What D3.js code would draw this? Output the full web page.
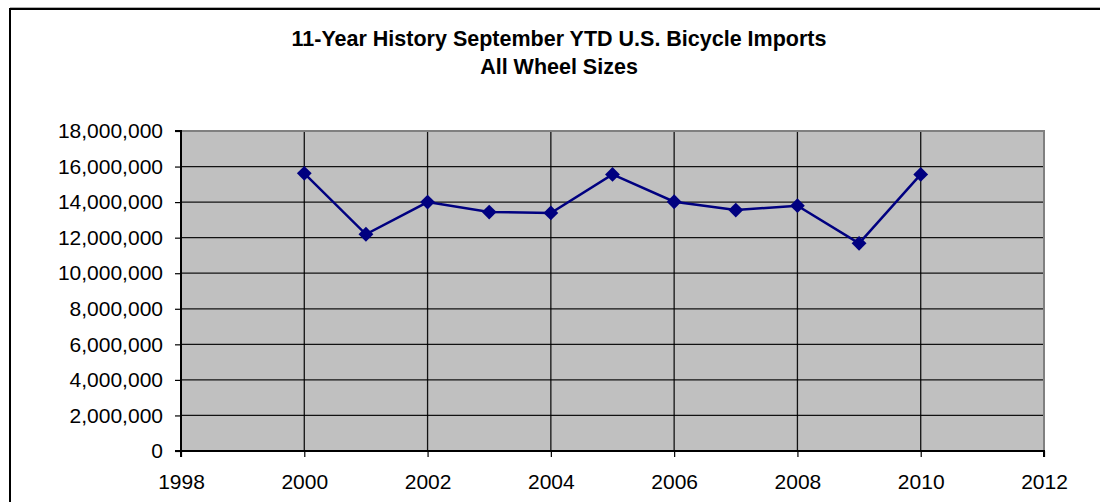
<!DOCTYPE html>
<html>
<head>
<meta charset="utf-8">
<script src="https://cdn.jsdelivr.net/npm/d3@7"></script>
<style>
  html, body { margin: 0; padding: 0; background: #fff; }
  svg { display: block; }
  text { font-family: "Liberation Sans", Arial, sans-serif; fill: #000; }
</style>
</head>
<body>
<svg id="chart" width="1100" height="502"></svg>
<script>
const years = [2000, 2001, 2002, 2003, 2004, 2005, 2006, 2007, 2008, 2009, 2010];
const imports = [15620000, 12190000, 14000000, 13440000, 13390000, 15560000, 14020000, 13550000, 13800000, 11680000, 15560000];
const xTicks = [1998, 2000, 2002, 2004, 2006, 2008, 2010, 2012];
const yTicks = [0, 2000000, 4000000, 6000000, 8000000, 10000000, 12000000, 14000000, 16000000, 18000000];
const titleLines = ["11-Year History September YTD U.S. Bicycle Imports", "All Wheel Sizes"];

const svg = d3.select("#chart");
const L = 181, R = 1044, T = 131, B = 451;

// outer chart border
svg.append("rect").attr("x", 10).attr("y", 9).attr("width", 1200).attr("height", 600)
  .attr("fill", "#fff").attr("stroke", "#000").attr("stroke-width", 2);
svg.append("line").attr("x1", 10).attr("x2", 1100).attr("y1", 7.5).attr("y2", 7.5)
  .attr("stroke", "#b0b0b0").attr("stroke-width", 1);

const x = d3.scaleLinear().domain([1998, 2012]).range([L, R]);
const y = d3.scaleLinear().domain([0, 18000000]).range([B, T]);

// plot background
svg.append("rect").attr("x", L).attr("y", T).attr("width", R - L).attr("height", B - T)
  .attr("fill", "#c0c0c0");

// gridlines
svg.append("g").selectAll("line").data(yTicks.slice(1)).join("line")
  .attr("x1", L).attr("x2", R).attr("y1", d => y(d)).attr("y2", d => y(d))
  .attr("stroke", "#000").attr("stroke-width", 1.3).attr("opacity", 0.9);
svg.append("g").selectAll("line").data(xTicks.slice(1, -1)).join("line")
  .attr("y1", T).attr("y2", B).attr("x1", d => x(d)).attr("x2", d => x(d))
  .attr("stroke", "#000").attr("stroke-width", 1.3).attr("opacity", 0.9);

// plot border (top/right gray)
svg.append("path").attr("d", `M${L},${T}H${R}V${B}`).attr("fill", "none")
  .attr("stroke", "#808080").attr("stroke-width", 2);

// axes
const fmt = d3.format(",");
const yAxis = d3.axisLeft(y).tickValues(yTicks).tickFormat(fmt).tickSize(6).tickPadding(12);
const gy = svg.append("g").attr("transform", `translate(${L},0)`).call(yAxis);
const xAxis = d3.axisBottom(x).tickValues(xTicks).tickFormat(d3.format("d")).tickSize(6).tickPadding(17);
const gx = svg.append("g").attr("transform", `translate(0,${B})`).call(xAxis);
[gx, gy].forEach(g => {
  g.select(".domain").attr("stroke", "#000").attr("stroke-width", 2);
  g.selectAll(".tick line").attr("stroke", "#000").attr("stroke-width", 1.2);
  g.selectAll("text").attr("font-family", "'Liberation Sans', Arial, sans-serif")
    .attr("font-size", 21).attr("fill", "#000");
});
gx.select(".domain").attr("d", `M${L},6V0H${R}V6`);
gy.select(".domain").attr("d", `M-6,${T}H0V${B}H-6`);

// line + markers
const line = d3.line().x((d, i) => x(years[i])).y(d => y(d));
svg.append("path").datum(imports).attr("d", line).attr("fill", "none")
  .attr("stroke", "#000080").attr("stroke-width", 2.5);
svg.append("g").selectAll("path").data(imports).join("path")
  .attr("d", d3.symbol().type(d3.symbolSquare).size(110))
  .attr("transform", (d, i) => `translate(${x(years[i])},${y(d)}) rotate(45)`)
  .attr("fill", "#000080");

// title
svg.append("g").selectAll("text").data(titleLines).join("text")
  .attr("x", 559).attr("y", (d, i) => 46 + i * 28)
  .attr("text-anchor", "middle").attr("font-weight", "bold").attr("font-size", 21.5)
  .text(d => d);
</script>
</body>
</html>
